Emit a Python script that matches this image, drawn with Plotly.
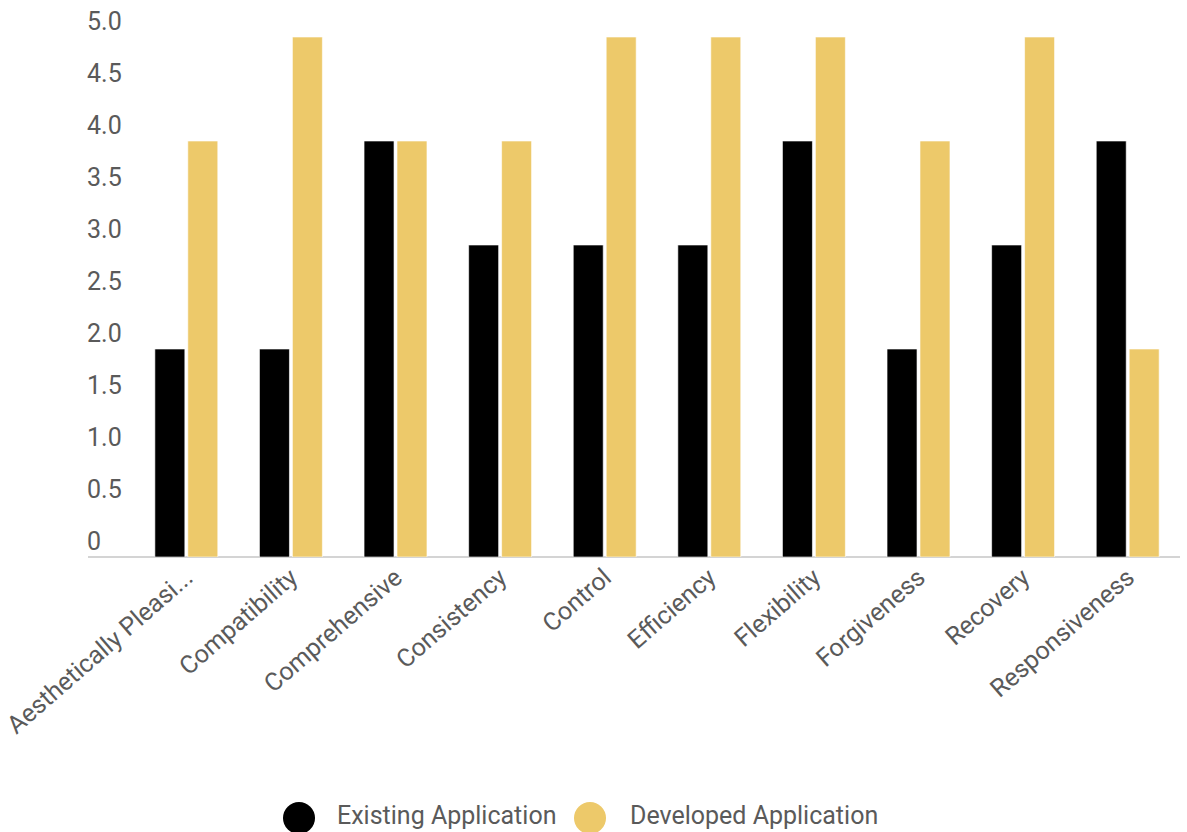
import plotly.graph_objects as go

categories = ["Aesthetically Pleasing", "Compatibility", "Comprehensive", "Consistency", "Control",
              "Efficiency", "Flexibility", "Forgiveness", "Recovery", "Responsiveness"]
tick_labels = ["Aesthetically Pleasi...", "Compatibility", "Comprehensive", "Consistency", "Control",
               "Efficiency", "Flexibility", "Forgiveness", "Recovery", "Responsiveness"]
existing = [2, 2, 4, 3, 3, 3, 4, 2, 3, 4]
developed = [4, 5, 4, 4, 5, 5, 5, 4, 5, 2]
series_names = ["Existing Application", "Developed Application"]
colors = ["#000000", "#EDC96A"]
y_ticks = [0, 0.5, 1, 1.5, 2, 2.5, 3, 3.5, 4, 4.5, 5]
y_tick_text = ["0", "0.5", "1.0", "1.5", "2.0", "2.5", "3.0", "3.5", "4.0", "4.5", "5.0"]

W, H = 1187, 832
ML, MR, MT, MB = 88, 7, 37, 275
FONT = "Roboto"
TXT = "#5a5a5a"
FS = 25

fig = go.Figure()
for name, vals, c in zip(series_names, [existing, developed], colors):
    fig.add_trace(go.Bar(x=categories, y=vals, name=name, marker_color=c,
                         marker_line=dict(color="rgba(255,255,255,0.6)", width=1),
                         showlegend=False))

fig.update_layout(
    width=W, height=H,
    margin=dict(l=ML, r=MR, t=MT, b=MB, autoexpand=False),
    paper_bgcolor="white", plot_bgcolor="white",
    barmode="group", bargap=0.37, bargroupgap=0.09,
    font=dict(family=FONT, color=TXT, size=FS),
    xaxis=dict(range=[-0.94, 9.5], tickvals=categories, ticktext=tick_labels,
               tickangle=-41, showgrid=False, showline=False, zeroline=False,
               automargin=False,
               ticks="", tickfont=dict(size=FS, color=TXT)),
    yaxis=dict(range=[0, 5], tickvals=y_ticks, ticktext=y_tick_text,
               ticklabelposition="inside", ticklabelshift=-16, ticklabelstandoff=-4,
               ticklabeloverflow="allow", automargin=False,
               showgrid=False, zeroline=True, zerolinecolor="#d4d4d4", zerolinewidth=1.5,
               showline=False, ticks="", tickfont=dict(size=FS, color=TXT)),
)

# manual legend (large circle symbols)
def px_to_paper_x(px):
    return (px - ML) / (W - ML - MR)

def px_to_paper_y(py):
    return (H - MB - py) / (H - MT - MB)

legend_items = [(299, 335), (590, 628)]
cy, ty = 818, 815
r = 16
for (cx, tx), name, c in zip(legend_items, series_names, colors):
    fig.add_shape(type="circle", xref="paper", yref="paper",
                  x0=px_to_paper_x(cx - r), x1=px_to_paper_x(cx + r),
                  y0=px_to_paper_y(cy + r), y1=px_to_paper_y(cy - r),
                  fillcolor=c, line=dict(width=0))
    fig.add_annotation(text=name, xref="paper", yref="paper",
                       x=px_to_paper_x(tx), y=px_to_paper_y(ty),
                       xanchor="left", yanchor="middle", showarrow=False,
                       font=dict(family=FONT, size=FS, color=TXT))

fig.write_html("out.html")
